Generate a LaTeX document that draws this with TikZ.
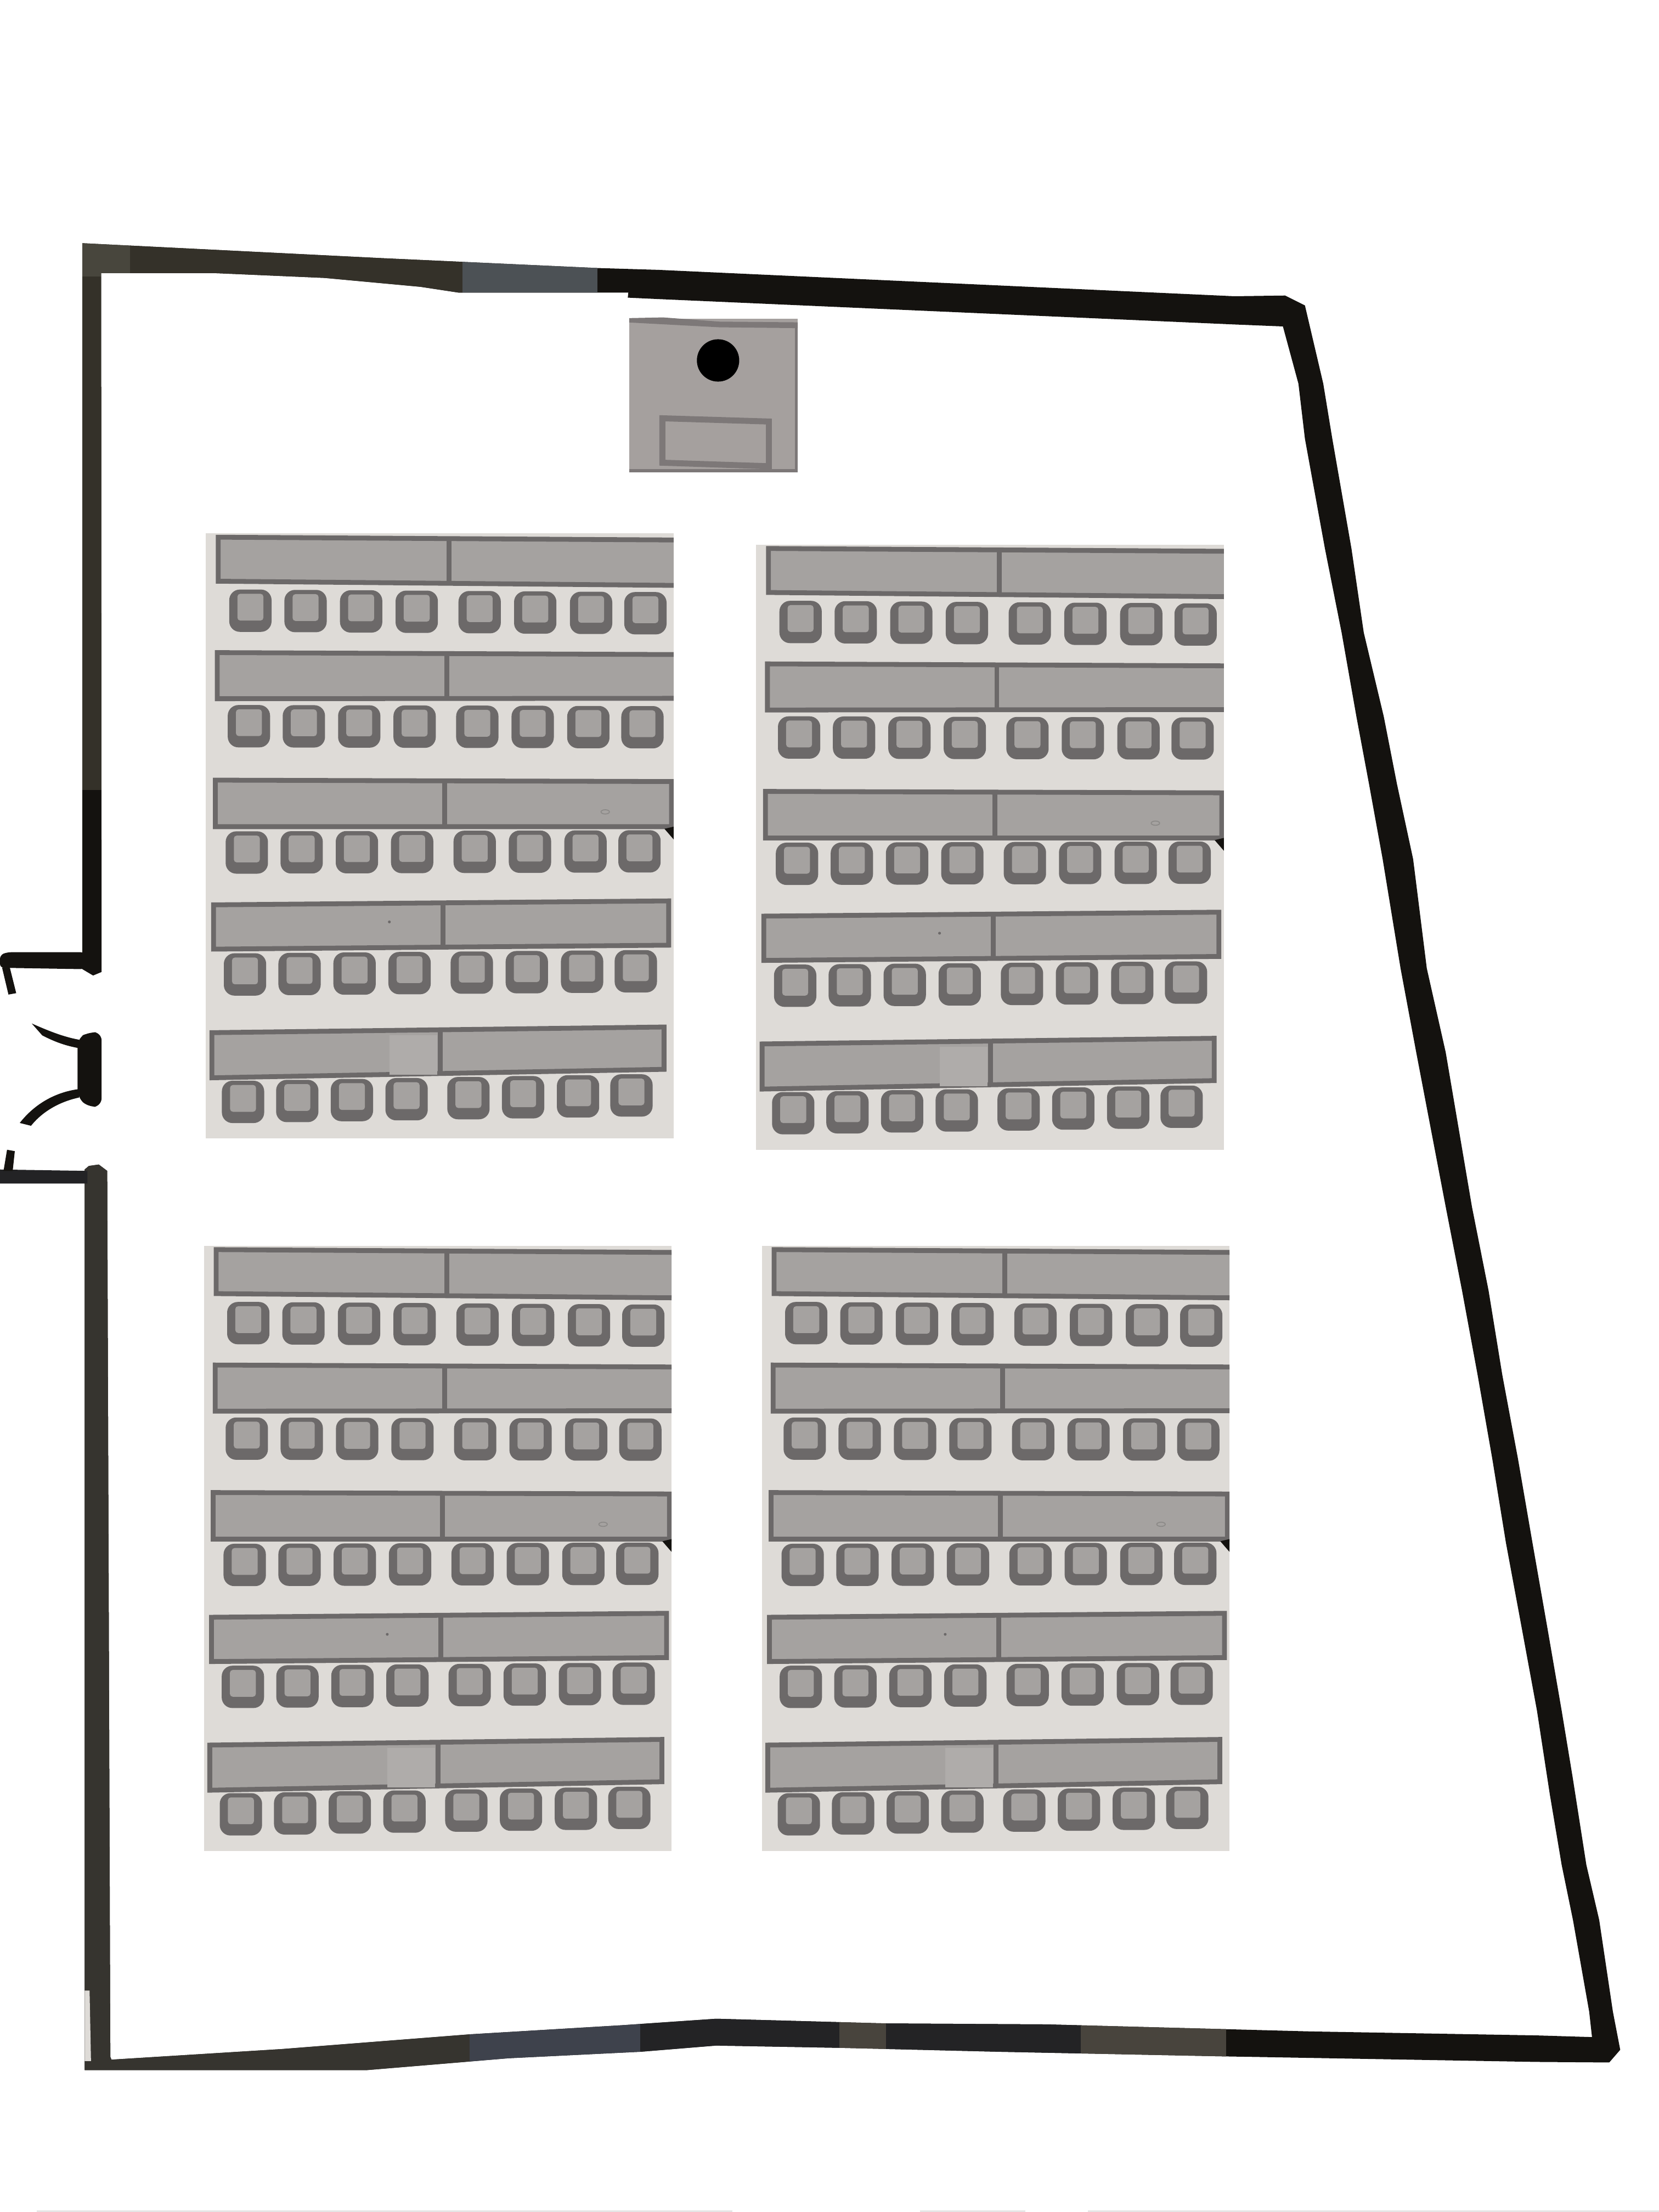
\documentclass[tikz,border=0pt]{standalone}
\definecolor{wallc}{RGB}{20,18,15}
\definecolor{paperc}{RGB}{222,219,215}
\definecolor{tablec}{RGB}{165,162,160}
\definecolor{linec}{RGB}{108,105,105}
\definecolor{seatc}{RGB}{165,162,160}
\definecolor{bandc}{RGB}{175,172,170}
\definecolor{podiumc}{RGB}{165,160,158}
\definecolor{podlinec}{RGB}{125,120,120}
\definecolor{wallolive}{RGB}{52,49,41}
\definecolor{wallolivelt}{RGB}{72,70,61}
\definecolor{wallslate}{RGB}{76,81,85}
\definecolor{wallgrey}{RGB}{54,52,47}
\definecolor{wallblue}{RGB}{62,66,76}
\definecolor{wallmid}{RGB}{35,35,37}
\definecolor{wallwarm}{RGB}{72,68,61}
\newcommand{\wallpath}{%
  (72,689) -- (66,691.5) -- (58.4,687) -- (58.4,172.4) -- (270.6,183) -- (423.5,190) -- (466.7,191.3)
  -- (875,210) -- (911,209.5) -- (925,216.5) -- (938,272) -- (944.4,311) -- (958,389) -- (966.7,448.4)
  -- (980.9,508) -- (990.2,555.6) -- (1001.7,609) -- (1011.4,686.5) -- (1024.8,746) -- (1043.4,855.5)
  -- (1055.2,915) -- (1064.9,974.6) -- (1076,1034) -- (1086.3,1093.7) -- (1096.7,1153) -- (1107,1212.7)
  -- (1114.8,1260) -- (1124.5,1322) -- (1133.6,1361) -- (1143.3,1426) -- (1148.5,1453) -- (1140.7,1462)
  -- (1089,1461.6) -- (869.3,1457.7) -- (708.6,1454.4) -- (594.7,1451.6) -- (507.7,1450) -- (454,1454.4)
  -- (360.4,1459) -- (306.8,1463.5) -- (260,1467.4) -- (60,1467.4) -- (60,829) -- (63,826.5) -- (70,825.5)
  -- (76,830) -- (78.2,1458) -- (79,1460) -- (199.6,1452.5) -- (333.6,1442) -- (440.7,1435.6) -- (507.7,1431)
  -- (628,1434.3) -- (742,1435) -- (929.6,1440) -- (1089,1442.8) -- (1128.5,1444) -- (1126.5,1426)
  -- (1115,1361) -- (1107,1322) -- (1098.6,1272) -- (1089.5,1212.7) -- (1078.5,1153) -- (1067.5,1093.7)
  -- (1057.8,1034) -- (1047.4,974.6) -- (1036.4,915) -- (1024.8,855.5) -- (1003.9,746) -- (992.8,686.5)
  -- (980.1,609) -- (970.4,555.6) -- (961.5,508) -- (951,448.4) -- (939.2,389) -- (925,311) -- (920.4,272)
  -- (909.4,231.4) -- (875,230) -- (466.7,212) -- (445,211) -- (445.4,207.4) -- (325,207.4) -- (298,203.3)
  -- (230,197) -- (152,193.6) -- (71.7,193.6) -- cycle}
\newcommand{\tablerow}[9]{%
  \draw[line width=2.5pt,draw=linec,fill=tablec,line join=miter]
    (#1,#4) -- (#3,#5) -- (#3,#7) -- (#1,#6) -- cycle;
  \draw[line width=2.5pt,draw=linec] (#2,#8) -- (#2,#9);
}
\newcommand{\seatrow}[4]{%
  \foreach \b in {31.5,70.6,110,149.4,194,233.4,273,311.5}{
    \pgfmathsetmacro{\sx}{\b+#1+(#2-(#1))*\b/312}
    \pgfmathsetmacro{\sy}{#3+(#4-(#3))*\b/312}
    \fill[linec,rounded corners=5.5pt] (\sx-15,\sy-15) rectangle (\sx+15,\sy+15);
    \fill[seatc,rounded corners=1.5pt] (\sx-9.2,\sy-12) rectangle (\sx+9.2,\sy+7);
  }%
}
\newcommand{\seatblock}[2]{%
  \begin{scope}[shift={(#1,#2)}]
    \fill[paperc] (0,0) rectangle (331.5,429);
    \begin{scope}
      \clip (0,0) rectangle (331.5,429);
      \tablerow{8.7}{172.2}{336}{2.8}{4.8}{34}{37}{2.8}{35.5}
      \tablerow{8}{170.6}{336}{84.6}{86}{117.3}{117}{85}{117}
      \tablerow{6.6}{169.2}{330}{175}{176}{208}{208}{175.5}{208}
      \tablerow{5.4}{168}{328}{263.4}{260.6}{294.8}{292}{262}{293.5}
      \tablerow{4.2}{166}{324.7}{354}{350}{386}{380}{352}{383}
      \fill[bandc] (130,356) rectangle (164,384);
      \draw[seatc!85!black,line width=0.5pt] (283,197.5) ellipse (3 and 1.5);
      \fill[linec] (130,275.5) circle (1);
      \fill[wallc] (331.5,208) -- (325,209.5) -- (331.5,217) -- cycle;
      \seatrow{0}{0}{54.7}{56.7}
      \seatrow{-0.94}{-2.1}{136.7}{137.5}
      \seatrow{-2.35}{-4.2}{226.4}{225.5}
      \seatrow{-3.5}{-6.8}{313}{310.5}
      \seatrow{-4.7}{-9.9}{403.6}{398.5}
    \end{scope}
  \end{scope}%
}
\begin{document}
\begin{tikzpicture}[x=0.0257143cm,y=-0.0257143cm]
\useasboundingbox (0,0) rectangle (1176,1568);
\fill[white] (0,0) rectangle (1176,1568);
% faint paper edge along the bottom
\fill[black!10] (26,1567) rectangle (519,1568);
\fill[black!10] (652,1567) rectangle (727,1568);
\fill[black!10] (771,1567) rectangle (1176,1568);
% walls
\fill[wallc] \wallpath;
\begin{scope}
  \clip \wallpath;
  % top wall shades
  \fill[wallolivelt] (58,170) rectangle (92,196);
  \fill[wallolive] (92,170) rectangle (328,210);
  \fill[wallslate] (328,170) rectangle (423.5,210);
  % left wall shades
  \fill[wallolive] (55,196) rectangle (80,560);
  \fill[wallgrey] (55,825) rectangle (82,1470);
  % bottom wall shades
  \fill[wallgrey] (82,1425) rectangle (333,1470);
  \fill[wallblue] (333,1425) rectangle (454,1470);
  \fill[wallmid] (454,1425) rectangle (595,1470);
  \fill[wallwarm] (595,1425) rectangle (628,1470);
  \fill[wallmid] (628,1425) rectangle (766,1470);
  \fill[wallwarm] (766,1425) rectangle (869,1470);
\end{scope}
\fill[paperc] (60,1411) -- (63.5,1411) -- (64.5,1461) -- (60,1461) -- cycle;
% door frame stubs and jambs
\fill[wallc,rounded corners=2pt] (0,677) -- (5,675) -- (60,675) -- (60,687) -- (0,686) -- cycle;
\fill[wallc] (1.5,686) -- (7,686) -- (11.5,704) -- (6,705) -- cycle;
\fill[wallmid] (0,829) -- (62,830) -- (62,839) -- (0,839) -- cycle;
\fill[wallc] (2.5,830) -- (5,815) -- (10.5,816) -- (9,830) -- cycle;
% centre pier and door leaves
\fill[wallc,rounded corners=4pt] (55,736) -- (63,731.5) -- (72,732) -- (72,784) -- (63,785) -- (55,778) -- cycle;
\fill[wallc] (56,737) .. controls (45,735) and (35,731) .. (22.5,725.5) -- (30,734) .. controls (38,738) and (45,741) .. (56,743) -- cycle;
\fill[wallc] (56,772) .. controls (40,774) and (25,782) .. (14,796) -- (22,798) .. controls (30,788) and (42,781) .. (56,778) -- cycle;
% podium
\fill[podiumc] (446,226) rectangle (565.5,335);
\fill[podlinec] (446,225.5) -- (470,225) -- (510,228) -- (565.5,228.5) -- (565.5,232.6) -- (510,232) -- (446,228.6) -- cycle;
\fill[podlinec] (446,332.5) rectangle (565.5,335);
\fill[podlinec] (563.5,232) rectangle (565.5,335);
\fill[black] (509,255.5) circle (15);
\draw[podlinec,line width=3.1pt] (469.5,296.5) -- (545,298.8) -- (545,330.5) -- (469.5,328) -- cycle;
% seating blocks
\seatblock{146}{378}
\seatblock{536}{386}
\seatblock{144.5}{883}
\seatblock{540}{883}
\end{tikzpicture}
\end{document}
